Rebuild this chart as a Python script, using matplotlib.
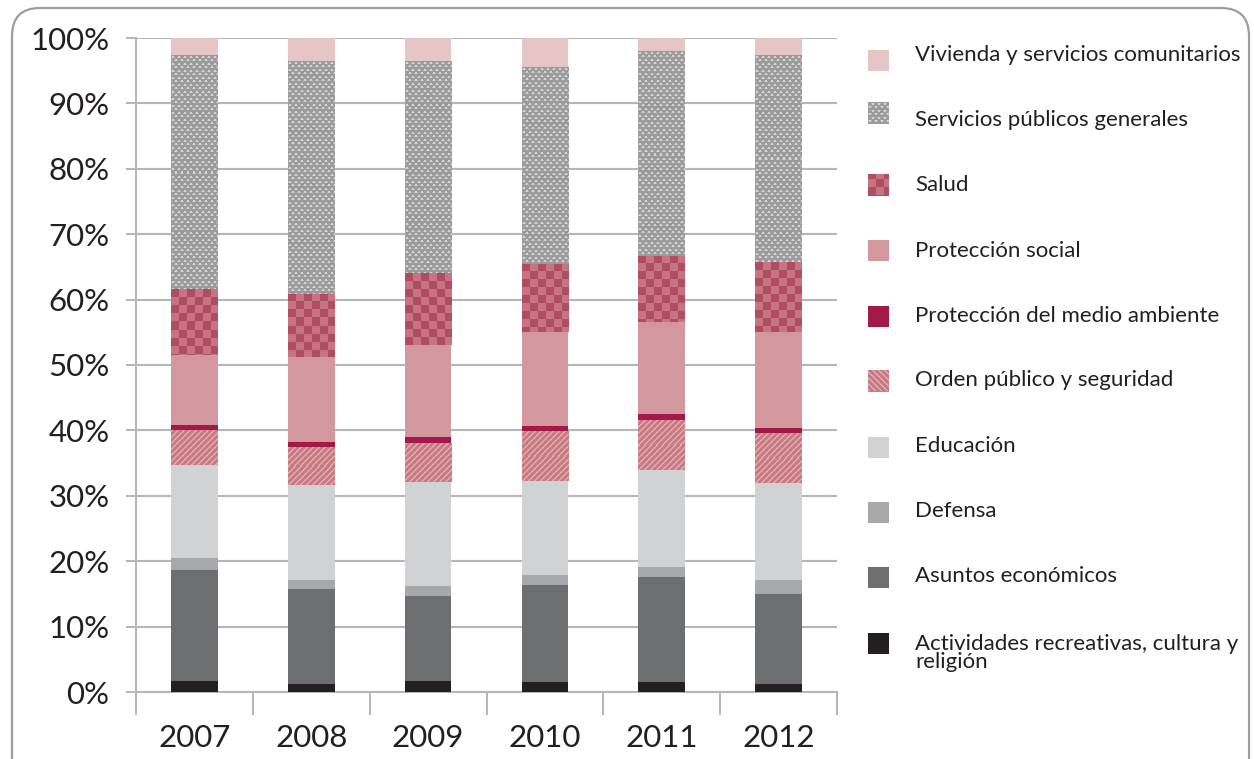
import numpy as np
import matplotlib
matplotlib.use("Agg")
import matplotlib.pyplot as plt
from matplotlib.colors import to_rgb
from matplotlib.patches import Rectangle, FancyBboxPatch

plt.rcParams['font.family'] = ['Lato', 'DejaVu Sans']

years = ["2007", "2008", "2009", "2010", "2011", "2012"]

# shares of spending (%) per function, bottom to top of each stack
actividades = [1.7, 1.2, 1.7, 1.6, 1.6, 1.2]
asuntos = [16.9, 14.5, 13.0, 14.7, 16.0, 13.8]
defensa = [1.9, 1.4, 1.5, 1.6, 1.5, 2.1]
educacion = [14.2, 14.5, 15.9, 14.3, 14.9, 14.8]
orden = [5.3, 5.7, 5.9, 7.5, 7.5, 7.5]
medio_ambiente = [0.9, 0.9, 1.0, 0.9, 1.0, 0.9]
proteccion_social = [10.7, 13.0, 14.0, 14.4, 14.0, 14.8]
salud = [10.0, 9.7, 11.0, 10.5, 10.2, 10.7]
servicios = [35.7, 35.6, 32.4, 30.1, 31.2, 31.5]
vivienda = [2.7, 3.5, 3.6, 4.4, 2.1, 2.7]

labels = ["Actividades recreativas, cultura y\nreligión", "Asuntos económicos",
          "Defensa", "Educación", "Orden público y seguridad",
          "Protección del medio ambiente", "Protección social", "Salud",
          "Servicios públicos generales", "Vivienda y servicios comunitarios"]
series = [actividades, asuntos, defensa, educacion, orden, medio_ambiente,
          proteccion_social, salud, servicios, vivienda]

colors = ['#231f20', '#6d6e70', '#a7a8ab', '#d1d2d4', '#c97b84', '#a31a4a',
          '#d3989e', '#b04d62', '#9b9b9b', '#e6c5c7']
fills = [None, None, None, None, 'stripes', None, None, 'checker', 'dots', None]


def make_tile(kind):
    if kind == 'dots':
        bg, fg = np.array(to_rgb('#9b9b9b')), np.array(to_rgb('#d4d4d4'))
        t = np.tile(bg, (7, 6, 1))
        t[1:3, 1:3] = fg
        t[4:6, 4:6] = fg
        t[2, 0] = t[2, 3] = t[5, 3] = t[5, 0] = (bg + fg) / 2
    elif kind == 'checker':
        a, b = np.array(to_rgb('#b04d62')), np.array(to_rgb('#c47580'))
        t = np.tile(a, (16, 16, 1))
        t[:8, 8:] = b
        t[8:, :8] = b
    else:
        a, b = np.array(to_rgb('#c97b84')), np.array(to_rgb('#dfa9ae'))
        t = np.tile(a, (6, 6, 1))
        for r in range(6):
            for c in range(6):
                if (r + c) % 6 < 2:
                    t[r, c] = b
    return t


def fill_texture(ax, patch, kind):
    bb = patch.get_window_extent()
    w, h = max(int(round(bb.width)), 1), max(int(round(bb.height)), 1)
    tile = make_tile(kind)
    ny, nx = tile.shape[:2]
    img = np.tile(tile, (h // ny + 1, w // nx + 1, 1))[:h, :w]
    x0, y0 = patch.get_x(), patch.get_y()
    x1, y1 = x0 + patch.get_width(), y0 + patch.get_height()
    if y1 < y0:
        y0, y1 = y1, y0
    ax.imshow(img, extent=(x0, x1, y0, y1), origin='upper', aspect='auto',
              interpolation='nearest', zorder=patch.get_zorder() + 0.1)


fig = plt.figure(figsize=(12.54, 7.59), dpi=100)
ax = fig.add_axes([136 / 1254, 67 / 759, 701 / 1254, 654 / 759])
grid_c = '#b5b6b9'
text_c = '#231f20'

x = np.arange(len(years))
ax.set_xlim(-0.5, 5.5)
ax.set_ylim(0, 100)

bottom = np.zeros(len(years))
for vals, col, kind in zip(series, colors, fills):
    bars = ax.bar(x, vals, width=0.40, bottom=bottom, color=col, linewidth=0, zorder=3)
    if kind:
        for p in bars:
            fill_texture(ax, p, kind)
    bottom += np.array(vals)

ax.set_xlim(-0.5, 5.5)
ax.set_ylim(0, 100)

ax.set_yticks(range(0, 101, 10))
ax.set_yticklabels([f"{v}%" for v in range(0, 101, 10)])
ax.set_xticks(x)
ax.set_xticklabels(years)
ax.set_xticks(np.arange(-0.5, 6, 1), minor=True)
ax.yaxis.grid(True, color=grid_c, lw=1.5, zorder=0)
ax.tick_params(axis='y', length=7.2, width=1.4, color=grid_c, pad=12,
               labelsize=22.5, labelcolor=text_c)
ax.tick_params(axis='x', which='major', length=0, pad=23, labelsize=22.5, labelcolor=text_c)
ax.tick_params(axis='x', which='minor', length=16.5, width=1.4, color=grid_c)
for s in ['top', 'right']:
    ax.spines[s].set_visible(False)
for s in ['left', 'bottom']:
    ax.spines[s].set_color(grid_c)
    ax.spines[s].set_linewidth(1.5)

# overlay in pixel coordinates for the legend and the frame
ov = fig.add_axes([0, 0, 1, 1])
ov.set_xlim(0, 1254)
ov.set_ylim(759, 0)
ov.axis('off')
ov.patch.set_alpha(0)

ov.add_patch(FancyBboxPatch((12, 8), 1237, 800, boxstyle="round,pad=0,rounding_size=28",
                            fill=False, edgecolor='#9d9d9d', lw=1.6))

patch_y = [643, 577, 512, 447, 381, 316, 250, 185, 113, 60]
text_y = [645, 576, 511, 446, 380, 316, 251, 185, 120, 55]
for lab, col, kind, py, ty in zip(labels, colors, fills, patch_y, text_y):
    r = Rectangle((868, py - 10.5), 21, 21, facecolor=col, linewidth=0)
    ov.add_patch(r)
    if kind:
        fill_texture(ov, r, kind)
    if '\n' in lab:
        ov.text(915, ty - 11, lab, fontsize=16, color=text_c, va='top', ha='left',
                linespacing=0.85)
    else:
        ov.text(915, ty, lab, fontsize=16, color=text_c, va='center', ha='left')
ov.set_xlim(0, 1254)
ov.set_ylim(759, 0)

fig.savefig("out.png", dpi=100)
